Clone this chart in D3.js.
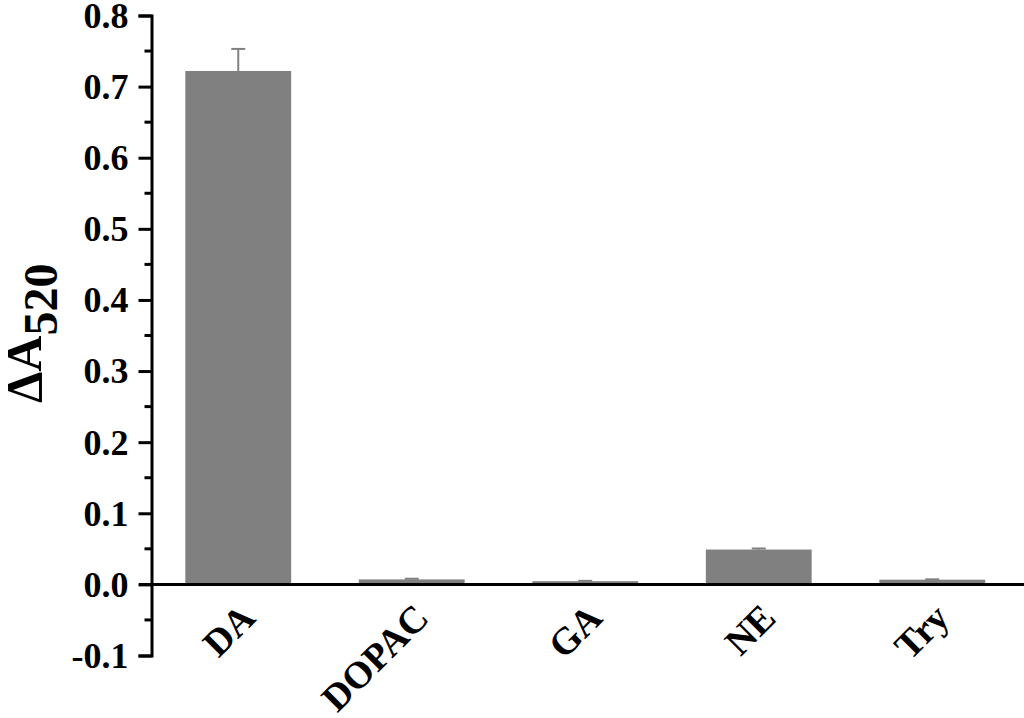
<!DOCTYPE html>
<html>
<head>
<meta charset="utf-8">
<script src="https://cdn.jsdelivr.net/npm/d3@7"></script>
<style>
	body { margin: 0; background: #fff; }
	svg text { font-family: "Liberation Serif", "Times New Roman", serif; font-weight: bold; }
</style>
</head>
<body>
<svg id="chart" width="1024" height="718"></svg>
<script>
	// data
	var categories = ['DA', 'DOPAC', 'GA', 'NE', 'Try'];
	var values = [0.722, 0.007, 0.0045, 0.049, 0.0066];
	var errors = [0.031, 0.001, 0.0005, 0.0015, 0.0005];
	var yTicks = [-0.1, 0, 0.1, 0.2, 0.3, 0.4, 0.5, 0.6, 0.7, 0.8];
	var yMinorTicks = [-0.05, 0.05, 0.15, 0.25, 0.35, 0.45, 0.55, 0.65, 0.75];

	var svg = d3.select('#chart');
	var W = 1024, H = 718;
	var axisX = 151.5;

	var y = d3.scaleLinear().domain([-0.1, 0.8]).range([655.5, 15.5]);
	var x = d3.scaleBand().domain(categories).range([axisX, 1019])
		.paddingInner(0.39).paddingOuter(0.195);

	var barColor = '#808080';

	// bars
	svg.append('g').selectAll('rect')
		.data(categories)
		.enter().append('rect')
		.attr('x', function (d) { return x(d); })
		.attr('width', x.bandwidth())
		.attr('y', function (d, i) { return y(values[i]); })
		.attr('height', function (d, i) { return y(0) - y(values[i]); })
		.attr('fill', barColor);

	// error bars (upper only)
	var err = svg.append('g').attr('stroke', barColor).attr('stroke-width', 2);
	categories.forEach(function (c, i)
	{
		var cx = x(c) + x.bandwidth() / 2;
		var top = y(values[i] + errors[i]);
		err.append('line').attr('x1', cx).attr('x2', cx)
			.attr('y1', y(values[i])).attr('y2', top);
		err.append('line').attr('x1', cx - 7).attr('x2', cx + 7)
			.attr('y1', top).attr('y2', top);
	});

	// zero line across the plot
	svg.append('line')
		.attr('x1', 139).attr('x2', W)
		.attr('y1', y(0)).attr('y2', y(0))
		.attr('stroke', '#000').attr('stroke-width', 3);

	// y axis, major ticks
	var fmt = d3.format('.1f');
	var yAxis = d3.axisLeft(y).tickValues(yTicks).tickSize(13).tickSizeOuter(13).tickPadding(10)
		.tickFormat(function (d) { return fmt(d).replace('\u2212', '-'); });
	var yg = svg.append('g').attr('transform', 'translate(' + axisX + ',0)').call(yAxis);
	yg.select('.domain').attr('stroke-width', 3);
	yg.selectAll('.tick line').attr('stroke-width', 3);
	yg.selectAll('.tick text').attr('font-size', 36).attr('fill', '#000')
		.attr('font-family', '"Liberation Serif", serif').attr('font-weight', 'bold')
		.attr('dy', '0.33em');

	// minor ticks
	svg.append('g').selectAll('line')
		.data(yMinorTicks)
		.enter().append('line')
		.attr('x1', axisX - 7).attr('x2', axisX)
		.attr('y1', function (d) { return y(d); })
		.attr('y2', function (d) { return y(d); })
		.attr('stroke', '#000').attr('stroke-width', 3);

	// category labels, rotated
	svg.append('g').selectAll('text')
		.data(categories)
		.enter().append('text')
		.attr('transform', function (d)
		{
			return 'translate(' + (x(d) + x.bandwidth() / 2 + 19) + ',620) rotate(-45)';
		})
		.attr('text-anchor', 'end')
		.attr('font-size', 38)
		.attr('fill', '#000')
		.text(function (d) { return d; });

	// y axis title
	var title = svg.append('text')
		.attr('transform', 'translate(41,403) rotate(-90)')
		.attr('font-size', 50)
		.attr('fill', '#000');
	title.append('tspan').text('\u0394A');
	title.append('tspan').attr('dy', 16).attr('font-size', 48).text('520');
</script>
</body>
</html>
